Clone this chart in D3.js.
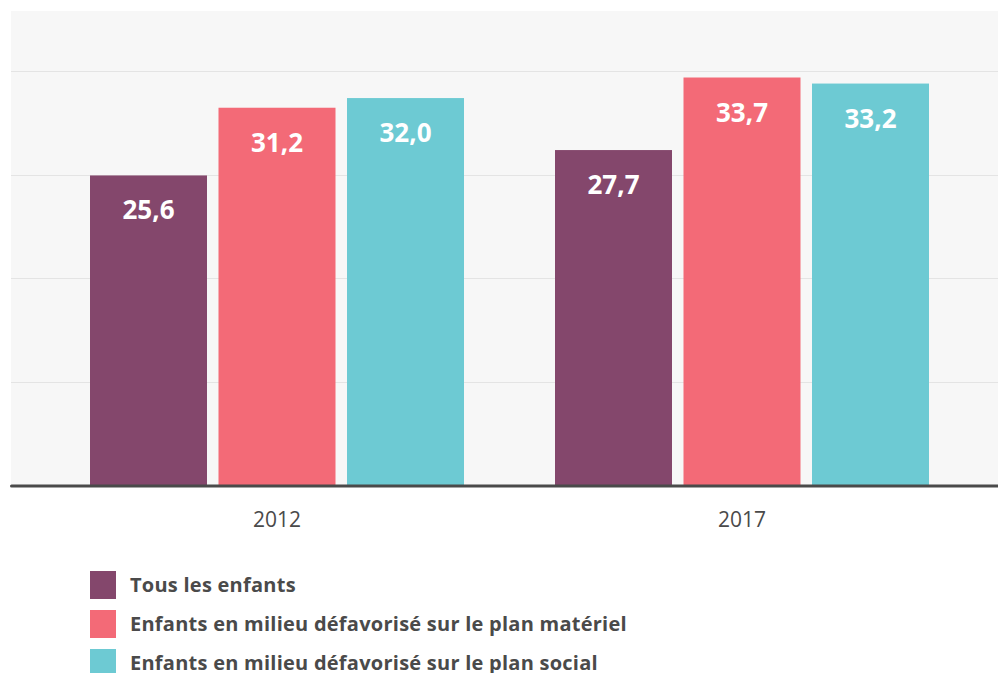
<!DOCTYPE html>
<html>
<head>
<meta charset="utf-8">
<script src="https://cdn.jsdelivr.net/npm/d3@7"></script>
<style>
  body { margin: 0; background: #fff; }
  svg { display: block; }
</style>
</head>
<body>
<div id="chart"></div>
<script>
// data
const YEARS = ["2012", "2017"];
const SERIES = [
  "Tous les enfants",
  "Enfants en milieu défavorisé sur le plan matériel",
  "Enfants en milieu défavorisé sur le plan social"
];
const VALUES_2012 = [25.6, 31.2, 32.0];
const VALUES_2017 = [27.7, 33.7, 33.2];
const GRID_VALUES = [8.55, 17.1, 25.65, 34.2];
const COLORS = ["#84476c", "#f36a77", "#6dcad3"];

const WIDTH = 998, HEIGHT = 673;
const PLOT = {left: 11, top: 11, right: 998, bottom: 485};

const rows = YEARS.map((y, i) => ({
  year: y,
  values: (i === 0 ? VALUES_2012 : VALUES_2017)
}));

const svg = d3.select("#chart").append("svg")
  .attr("width", WIDTH)
  .attr("height", HEIGHT);

// scales
const Y = d3.scaleLinear()
  .domain([0, 39.2])
  .range([PLOT.bottom, PLOT.top]);

const X0 = d3.scaleBand()
  .domain(YEARS)
  .range([90, 929])
  .paddingInner(0.1957);

const X1 = d3.scaleBand()
  .domain(SERIES)
  .range([0, X0.bandwidth()])
  .paddingInner(0.0895);

const color = d3.scaleOrdinal().domain(SERIES).range(COLORS);

// background
svg.append("rect")
  .attr("x", PLOT.left)
  .attr("y", PLOT.top)
  .attr("width", PLOT.right - PLOT.left)
  .attr("height", PLOT.bottom - PLOT.top)
  .attr("fill", "#f7f7f7");

// grid
svg.append("g")
  .selectAll("line")
  .data(GRID_VALUES)
  .enter()
  .append("line")
    .attr("x1", PLOT.left)
    .attr("x2", PLOT.right)
    .attr("y1", d => Math.round(Y(d)) + 0.5)
    .attr("y2", d => Math.round(Y(d)) + 0.5)
    .attr("stroke", "#e4e4e4")
    .attr("stroke-width", 1);

// bars
const groups = svg.append("g")
  .selectAll("g")
  .data(rows)
  .enter()
  .append("g")
    .attr("transform", d => "translate(" + X0(d.year) + ",0)");

groups.selectAll("rect")
  .data(d => d.values.map((v, i) => ({key: SERIES[i], value: v})))
  .enter()
  .append("rect")
    .attr("x", d => X1(d.key))
    .attr("y", d => Y(d.value))
    .attr("width", X1.bandwidth())
    .attr("height", d => Y(0) - Y(d.value))
    .attr("fill", d => color(d.key));

groups.selectAll("text")
  .data(d => d.values.map((v, i) => ({key: SERIES[i], value: v})))
  .enter()
  .append("text")
    .attr("x", d => X1(d.key) + X1.bandwidth() / 2)
    .attr("y", d => Y(d.value) + 44)
    .attr("text-anchor", "middle")
    .attr("font-family", "'Open Sans', sans-serif")
    .attr("font-weight", "bold")
    .attr("font-size", "26px")
    .attr("fill", "#fff")
    .text(d => d.value.toFixed(1).replace(".", ","));

// x axis
const xAxis = svg.append("g")
  .attr("transform", "translate(0," + PLOT.bottom + ")")
  .call(d3.axisBottom(X0).tickSize(0).tickPadding(27));
xAxis.select(".domain").remove();
xAxis.selectAll("text")
  .attr("font-family", "'Open Sans', sans-serif")
  .attr("font-size", "21px")
  .attr("fill", "#4a4a4a");

svg.append("line")
  .attr("x1", 11.5)
  .attr("x2", PLOT.right)
  .attr("y1", PLOT.bottom + 1)
  .attr("y2", PLOT.bottom + 1)
  .attr("stroke", "#4a4a4a")
  .attr("stroke-width", 3)
  .attr("stroke-linecap", "round");

// legend
const legend = svg.append("g")
  .selectAll("g")
  .data(SERIES)
  .enter()
  .append("g")
    .attr("transform", (d, i) => "translate(90," + (571 + i * 39) + ")");

legend.append("rect")
  .attr("width", 26)
  .attr("height", 28)
  .attr("fill", d => color(d));

legend.append("text")
  .attr("x", 40)
  .attr("y", 21)
  .attr("font-family", "'Open Sans', sans-serif")
  .attr("font-weight", "bold")
  .attr("font-size", "20px")
  .attr("letter-spacing", "0.25px")
  .attr("fill", "#4a4a4a")
  .text(d => d);
</script>
</body>
</html>
